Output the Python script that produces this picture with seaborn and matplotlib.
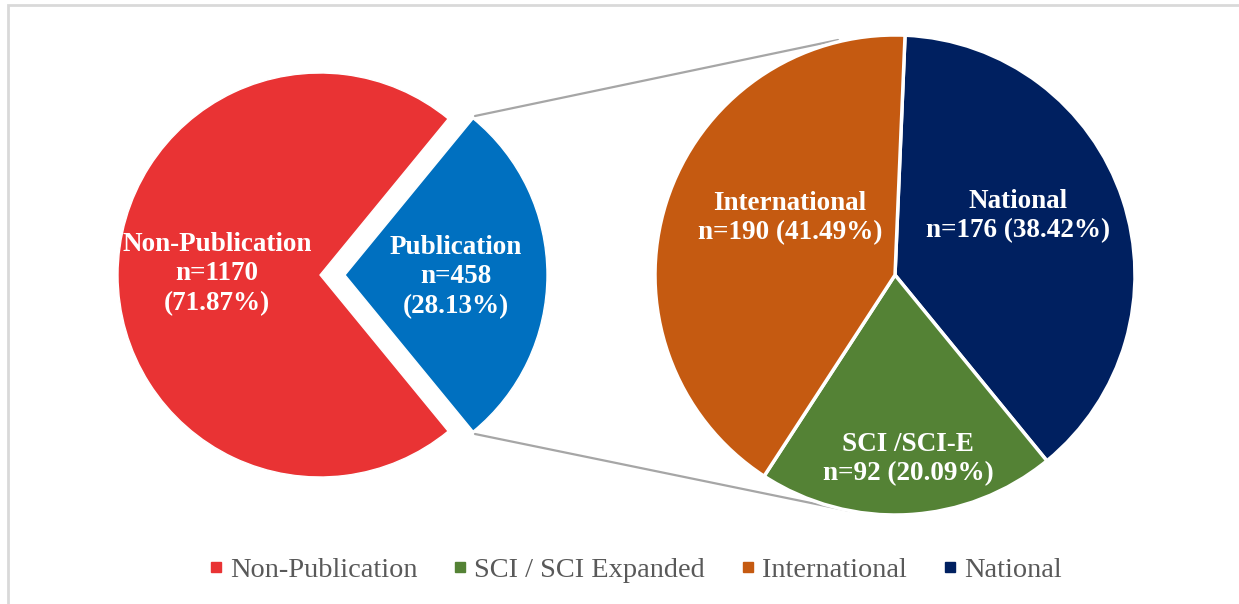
import matplotlib
matplotlib.use("Agg")
import matplotlib.pyplot as plt
import seaborn as sns
from matplotlib.patches import Rectangle
from matplotlib.lines import Line2D

# Publication status of respondents
main_labels = ["Non-Publication", "Publication"]
main_counts = [1170, 458]
main_pcts = [71.87, 28.13]

# Breakdown of the publication group
sub_labels = ["National", "SCI /SCI-E", "International"]
sub_counts = [176, 92, 190]
sub_pcts = [38.42, 20.09, 41.49]

legend_labels = ["Non-Publication", "SCI / SCI Expanded", "International", "National"]

colors = {
    "Non-Publication": "#E93334",
    "Publication": "#0070C0",
    "International": "#C55A11",
    "National": "#002060",
    "SCI /SCI-E": "#548235",
}

sns.set_theme(style="white")
plt.rcParams["font.family"] = ["Liberation Serif", "DejaVu Serif"]

W, H = 1239, 604
fig = plt.figure(figsize=(W / 100, H / 100), dpi=100)
ax = fig.add_axes([0, 0, 1, 1])


def py(y):
    return H - y


# primary pie, publication slice pulled out to the right
r1 = 202
share_pub = main_counts[1] / sum(main_counts)
start1 = 180 * share_pub
ax.pie(main_counts, colors=[colors[l] for l in main_labels], startangle=start1,
       center=(320, py(275)), radius=r1, explode=[0, 25],
       wedgeprops=dict(edgecolor="white", linewidth=1.0), frame=True)

# secondary pie
r2 = 240
ax.pie(sub_counts, colors=[colors[l] for l in sub_labels], startangle=87.6,
       counterclock=False, center=(895, py(275)), radius=r2,
       wedgeprops=dict(edgecolor="white", linewidth=2.5), frame=True)
ax.set_xlim(0, W)
ax.set_ylim(0, H)
ax.set_aspect("equal")
ax.axis("off")

# outer frame
ax.add_patch(Rectangle((8, py(620)), 1260, 615, fill=False, ec="#D9D9D9", lw=2, clip_on=True))

# connector lines
ax.plot([475, 838], [py(116), py(40)], color="#A6A6A6", lw=1.6, zorder=0)
ax.plot([475, 850], [py(434), py(511)], color="#A6A6A6", lw=1.6, zorder=0)

lab = dict(color="white", fontweight="bold", fontsize=19.5, ha="center", va="center",
           linespacing=1.25)
ax.text(217, py(274), f"{main_labels[0]}\nn={main_counts[0]}\n({main_pcts[0]:.2f}%)", **lab)
ax.text(456, py(277), f"{main_labels[1]}\nn={main_counts[1]}\n({main_pcts[1]:.2f}%)", **lab)
ax.text(790, py(218), f"{sub_labels[2]}\nn={sub_counts[2]} ({sub_pcts[2]:.2f}%)", **lab)
ax.text(1018, py(216), f"{sub_labels[0]}\nn={sub_counts[0]} ({sub_pcts[0]:.2f}%)", **lab)
ax.text(908, py(459), f"{sub_labels[1]}\nn={sub_counts[1]} ({sub_pcts[1]:.2f}%)", **lab)

legend_colors = [colors["Non-Publication"], colors["SCI /SCI-E"],
                 colors["International"], colors["National"]]
handles = [Line2D([], [], marker="s", ls="", markersize=7, markerfacecolor=c,
                  markeredgecolor=c) for c in legend_colors]
leg = fig.legend(handles, legend_labels, loc="center", bbox_to_anchor=(635 / W, 1 - 570 / H),
                 ncol=4, frameon=False, fontsize=20.4, handletextpad=0.25,
                 columnspacing=1.26, handlelength=0.5)
for t in leg.get_texts():
    t.set_color("#595959")

fig.savefig("out.png", dpi=100)
